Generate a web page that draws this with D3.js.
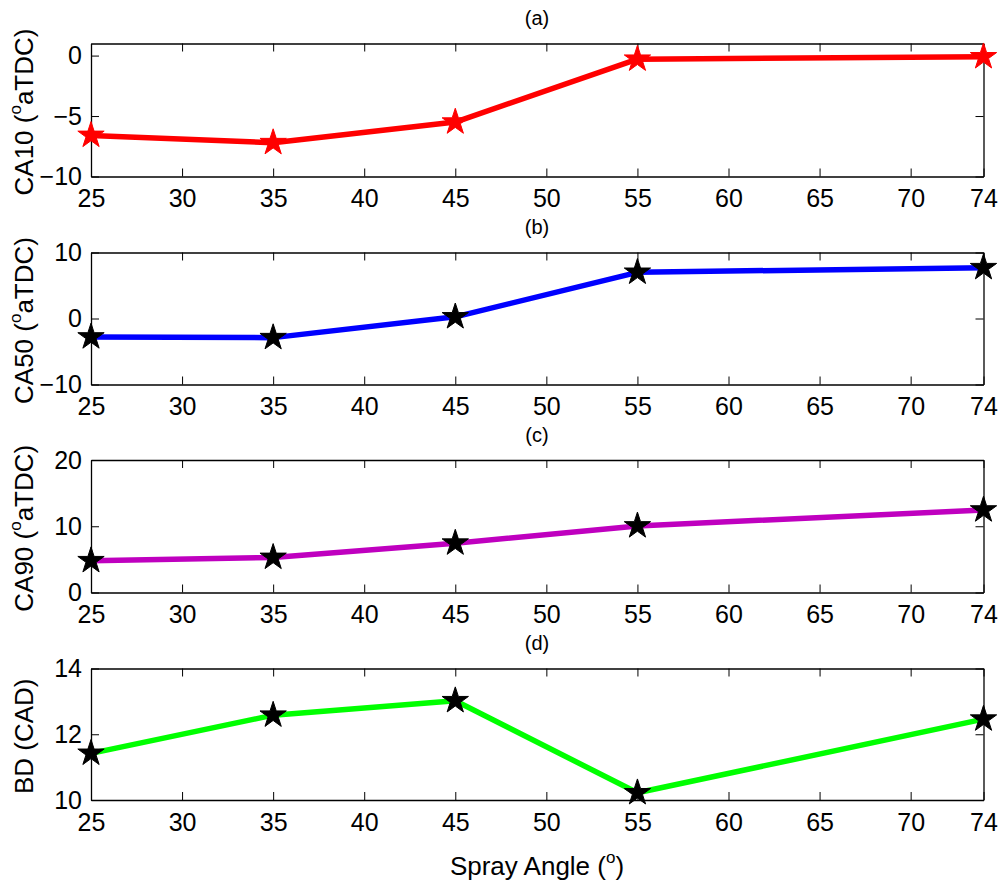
<!DOCTYPE html>
<html><head><meta charset="utf-8">
<script src="https://cdn.jsdelivr.net/npm/d3@7"></script>
<style>body{margin:0;background:#fff;} svg{display:block;font-family:"Liberation Sans",Arial,sans-serif;}</style>
</head><body>
<script>
const angles = [25, 35, 45, 55, 74];
const xTicks = [25, 30, 35, 40, 45, 50, 55, 60, 65, 70, 74];
const ca10 = [-6.6, -7.2, -5.5, -0.3, -0.1];
const ca50 = [-2.8, -2.9, 0.25, 7.0, 7.7];
const ca90 = [4.8, 5.3, 7.45, 10.05, 12.45];
const bd = [11.42, 12.58, 13.02, 10.22, 12.46];
const panelTitles = ["(a)", "(b)", "(c)", "(d)"];
const yLabels = [["CA10 (", "o", "aTDC)"], ["CA50 (", "o", "aTDC)"], ["CA90 (", "o", "aTDC)"], ["BD (CAD)", "", ""]];
const yDomains = [[-10, 1], [-10, 10], [0, 20], [10, 14]];
const yTickVals = [[-10, -5, 0], [-10, 0, 10], [0, 10, 20], [10, 12, 14]];
const lineColors = ["#ff0000", "#0000ff", "#bf00bf", "#00ff00"];
const markerColors = ["#ff0000", "#000000", "#000000", "#000000"];
const series = [ca10, ca50, ca90, bd];

const W = 1001, H = 886;
const svg = d3.select("body").append("svg").attr("width", W).attr("height", H);
const left = 91, right = 983.5;
const panels = [{top: 43.5, bottom: 176.5}, {top: 252.5, bottom: 384.5}, {top: 460, bottom: 592.5}, {top: 668.5, bottom: 800}];
const x = d3.scaleLinear().domain([25, 74]).range([left, right]);
const tickLen = 8;
const FS = 25;

panels.forEach((p, i) => {
  const y = d3.scaleLinear().domain(yDomains[i]).range([p.bottom, p.top]);
  const g = svg.append("g");
  g.append("text").attr("x", 537).attr("y", p.top - 18.5)
    .attr("text-anchor", "middle").attr("font-size", 20).text(panelTitles[i]);
  const xb = g.append("g").attr("transform", `translate(0,${p.bottom})`)
    .call(d3.axisBottom(x).tickValues(xTicks).tickSizeInner(-tickLen).tickSizeOuter(0).tickPadding(13).tickFormat(d3.format("d")));
  const xt = g.append("g").attr("transform", `translate(0,${p.top})`)
    .call(d3.axisTop(x).tickValues(xTicks).tickSizeInner(-tickLen).tickSizeOuter(0).tickFormat(""));
  const yl = g.append("g").attr("transform", `translate(${left},0)`)
    .call(d3.axisLeft(y).tickValues(yTickVals[i]).tickSizeInner(-tickLen).tickSizeOuter(0).tickPadding(9).tickFormat(d => d < 0 ? "\u2212" + Math.abs(d) : d));
  const yr = g.append("g").attr("transform", `translate(${right},0)`)
    .call(d3.axisRight(y).tickValues(yTickVals[i]).tickSizeInner(-tickLen).tickSizeOuter(0).tickFormat(""));
  [xb, xt, yl, yr].forEach(a => {
    a.selectAll(".domain").attr("stroke", "#000").attr("stroke-width", 1.3);
    a.selectAll(".tick line").attr("stroke", "#000").attr("stroke-width", 1);
    a.selectAll("text").attr("font-size", FS).attr("fill", "#000").attr("font-family", "Liberation Sans, Arial, sans-serif");
  });
  const lab = g.append("text").attr("transform", `translate(33,${(p.top + p.bottom) / 2 + 2}) rotate(-90)`)
    .attr("text-anchor", "middle").attr("font-size", 26);
  lab.append("tspan").text(yLabels[i][0]);
  if (yLabels[i][1]) {
    lab.append("tspan").attr("font-size", 17).attr("dy", -12).text(yLabels[i][1]);
    lab.append("tspan").attr("dy", 12).text(yLabels[i][2]);
  }
  const data = angles.map((a, k) => [a, series[i][k]]);
  g.append("path").datum(data)
    .attr("d", d3.line().x(d => x(d[0])).y(d => y(d[1])))
    .attr("fill", "none").attr("stroke", lineColors[i]).attr("stroke-width", 5.5).attr("stroke-linejoin", "round");
  g.selectAll(".m").data(data).enter().append("path")
    .attr("transform", d => `translate(${x(d[0])},${y(d[1])})`)
    .attr("d", d3.symbol(d3.symbolStar, 215)())
    .attr("fill", markerColors[i]).attr("stroke", markerColors[i]).attr("stroke-width", 1);
});

const xl = svg.append("text").attr("x", 537).attr("y", 875).attr("text-anchor", "middle").attr("font-size", 26);
xl.append("tspan").text("Spray Angle (");
xl.append("tspan").attr("font-size", 17).attr("dy", -12).text("o");
xl.append("tspan").attr("dy", 12).text(")");
</script>
</body></html>
